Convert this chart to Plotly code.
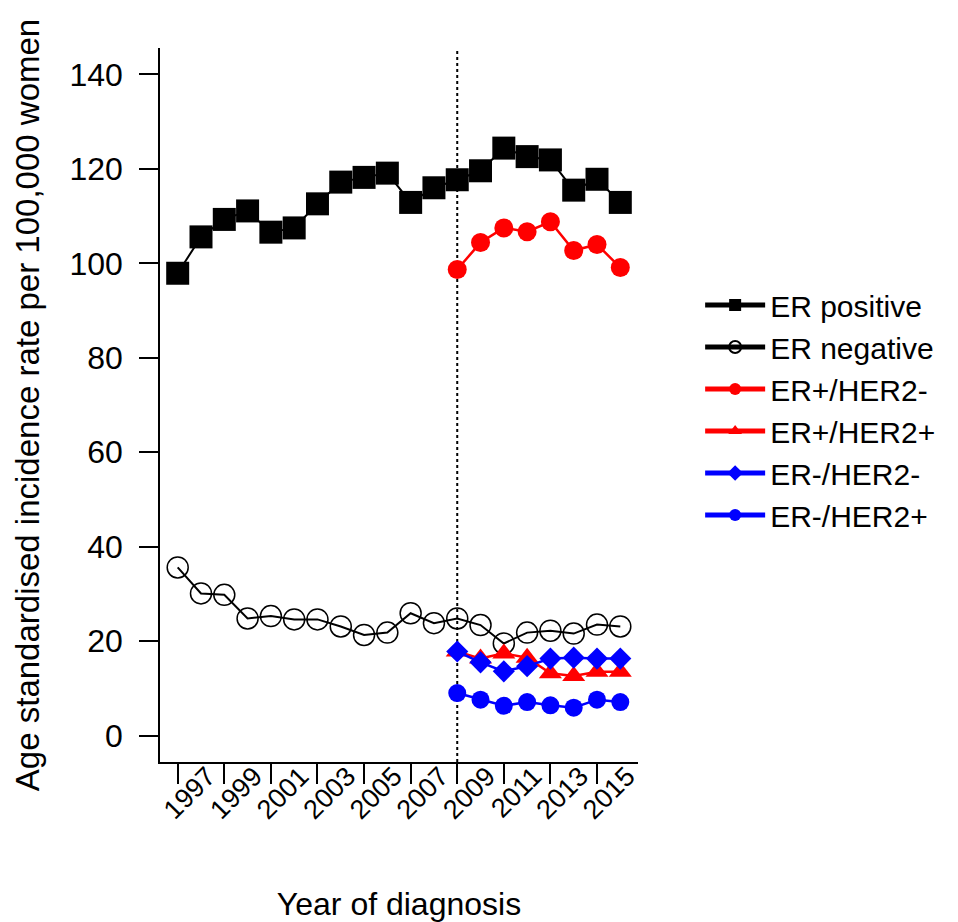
import plotly.graph_objects as go

years = list(range(1997, 2017))
years_sub = list(range(2009, 2017))

er_pos = [97.9, 105.6, 109.3, 111.1, 106.6, 107.5, 112.6, 117.2, 118.2, 119.1,
          112.9, 116.0, 117.7, 119.6, 124.4, 122.6, 121.9, 115.5, 117.8, 112.9]
er_neg = [35.6, 30.1, 29.8, 24.8, 25.3, 24.6, 24.6, 23.1, 21.3, 21.8,
          25.9, 23.8, 24.8, 23.4, 19.5, 21.8, 22.2, 21.6, 23.5, 23.1]
erp_her2n = [98.7, 104.4, 107.5, 106.7, 108.8, 102.7, 104.0, 99.1]
erp_her2p = [17.8, 16.3, 17.4, 16.5, 13.2, 12.6, 13.5, 13.5]
ern_her2n = [17.8, 15.5, 13.6, 14.7, 16.3, 16.5, 16.3, 16.3]
ern_her2p = [9.0, 7.6, 6.3, 7.1, 6.4, 5.9, 7.6, 7.1]

x_ticks = list(range(1997, 2016, 2))
y_ticks = list(range(0, 141, 20))
cutoff_year = 2009

FONT = "Liberation Sans, Arial, sans-serif"
FS = 32

fig = go.Figure()
fig.add_trace(go.Scatter(x=years, y=er_pos, name="ER positive", mode="lines+markers",
                         line=dict(color="black", width=2),
                         marker=dict(symbol="square", size=23, color="black")))
fig.add_trace(go.Scatter(x=years, y=er_neg, name="ER negative", mode="lines+markers",
                         line=dict(color="black", width=2),
                         marker=dict(symbol="circle-open", size=21, color="black",
                                     line=dict(width=1.5, color="black"))))
fig.add_trace(go.Scatter(x=years_sub, y=erp_her2n, name="ER+/HER2-", mode="lines+markers",
                         line=dict(color="#ff0000", width=2.5),
                         marker=dict(symbol="circle", size=19, color="#ff0000")))
fig.add_trace(go.Scatter(x=years_sub, y=erp_her2p, name="ER+/HER2+", mode="lines+markers",
                         line=dict(color="#ff0000", width=2.5),
                         marker=dict(symbol="triangle-up", size=20, color="#ff0000")))
fig.add_trace(go.Scatter(x=years_sub, y=ern_her2n, name="ER-/HER2-", mode="lines+markers",
                         line=dict(color="#0000ff", width=2.5),
                         marker=dict(symbol="diamond", size=17, color="#0000ff")))
fig.add_trace(go.Scatter(x=years_sub, y=ern_her2p, name="ER-/HER2+", mode="lines+markers",
                         line=dict(color="#0000ff", width=2.5),
                         marker=dict(symbol="circle", size=18, color="#0000ff")))

fig.add_vline(x=cutoff_year, line=dict(color="black", width=2, dash="dot"), layer="below")

fig.update_layout(
    width=950, height=914,
    margin=dict(l=152, r=320, t=40, b=160, autoexpand=False),
    paper_bgcolor="white", plot_bgcolor="white",
    font=dict(family=FONT, size=FS, color="black"),
    showlegend=True,
    legend=dict(x=1.13, y=0.6765, xanchor="left", yanchor="top",
                font=dict(family=FONT, size=30, color="black"),
                itemsizing="constant", itemwidth=60, bgcolor="rgba(0,0,0,0)"),
)
fig.update_xaxes(range=[1996.24, 2016.76], tickmode="array", tickvals=x_ticks,
                 ticktext=[str(v) for v in x_ticks], tickangle=-45,
                 tickfont=dict(family=FONT, size=27, color="black"),
                 ticks="outside", ticklen=20, tickwidth=1.5, tickcolor="black",
                 showline=True, linecolor="black", linewidth=1.5,
                 showgrid=False, zeroline=False,
                 ticklabelshift=30, ticklabelstandoff=-34,
                 title=dict(text="Year of diagnosis", standoff=85,
                            font=dict(family=FONT, size=FS, color="black")))
fig.update_yaxes(range=[-5.6, 145.6], tickmode="array", tickvals=y_ticks,
                 ticks="outside", ticklen=19, tickwidth=1.5, tickcolor="black",
                 showline=True, linecolor="black", linewidth=1.5,
                 showgrid=False, zeroline=False, ticklabelstandoff=10,
                 title=dict(text="Age standardised incidence rate per 100,000 women", standoff=20,
                            font=dict(family=FONT, size=33, color="black")))

fig.write_html("out.html")
